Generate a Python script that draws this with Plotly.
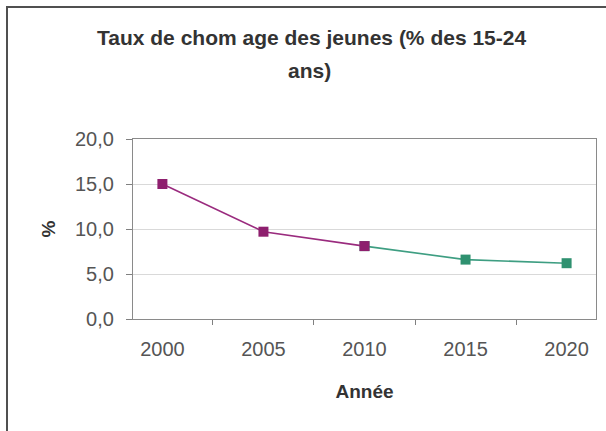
import plotly.graph_objects as go

# Data
years = ["2000", "2005", "2010", "2015", "2020"]
rate = [15.0, 9.7, 8.1, 6.6, 6.2]
split_index = 2  # last year of the first (purple) segment

title_line1 = "Taux de chom age des jeunes (% des 15-24"
title_line2 = "ans)"
x_title = "Année"
y_title = "%"
y_ticks = [0, 5, 10, 15, 20]

purple = "#8E1F6E"
purple_line = "#9A2B7E"
green = "#2F9170"
green_line = "#3E9E82"

W, H = 606, 431
L, R, T, B = 133, 10, 139, 112

fig = go.Figure()

# green segment first so purple marker at split sits on top
fig.add_trace(go.Scatter(
    x=years[split_index:], y=rate[split_index:], mode="lines+markers",
    line=dict(color=green_line, width=1.6),
    marker=dict(symbol="square", size=10, color=green),
    showlegend=False, cliponaxis=False,
))
fig.add_trace(go.Scatter(
    x=years[:split_index + 1], y=rate[:split_index + 1], mode="lines+markers",
    line=dict(color=purple_line, width=1.6),
    marker=dict(symbol="square", size=10, color=purple),
    showlegend=False, cliponaxis=False,
))

pw = W - L - R
ph = H - T - B

def px_x(p):
    return (p - L) / pw

def px_y(p):
    return (H - B - p) / ph

fig.update_layout(
    width=W, height=H,
    margin=dict(l=L, r=R, t=T, b=B, autoexpand=False),
    paper_bgcolor="white", plot_bgcolor="white",
    separators=", ",
    font=dict(family="Liberation Sans, Arial, sans-serif", color="#555555"),
    shapes=[
        dict(type="rect", xref="paper", yref="paper",
             x0=px_x(7), x1=px_x(620), y0=px_y(445), y1=px_y(7),
             line=dict(color="#505050", width=2), fillcolor="rgba(0,0,0,0)",
             layer="below"),
    ],
    annotations=[
        dict(text="<b>" + title_line1 + "</b>", xref="paper", yref="paper",
             x=px_x(311), y=px_y(37),
             xanchor="center", yanchor="middle", showarrow=False,
             font=dict(size=21, color="#333333", family="Liberation Sans, Arial, sans-serif")),
        dict(text="<b>" + title_line2 + "</b>", xref="paper", yref="paper",
             x=px_x(309), y=px_y(70),
             xanchor="center", yanchor="middle", showarrow=False,
             font=dict(size=21, color="#333333", family="Liberation Sans, Arial, sans-serif")),
    ],
)

fig.update_xaxes(
    type="category", categoryorder="array", categoryarray=years,
    tickson="boundaries", ticks="outside", ticklen=5, automargin=False,
    tickcolor="#808080", showline=True, linecolor="#8a8a8a", linewidth=1.2,
    mirror=True, showgrid=False, tickfont=dict(size=20, color="#555555"),
    ticklabelstandoff=12,
    title=dict(text="<b>" + x_title + "</b>", standoff=25,
               font=dict(size=19, color="#333333")),
)
fig.update_yaxes(
    range=[0, 20], tickvals=y_ticks, tickformat=".1f", ticks="outside", ticklen=6,
    automargin=False,
    tickcolor="#808080", showline=True, linecolor="#8a8a8a", linewidth=1.2,
    mirror=True, showgrid=True, gridcolor="#d9d9d9", gridwidth=1,
    zeroline=False, tickfont=dict(size=20, color="#555555"),
    ticklabelstandoff=8,
    title=dict(text="<b>" + y_title + "</b>", standoff=14,
               font=dict(size=19, color="#333333")),
)

fig.write_html("out.html", config={"displayModeBar": False},
               post_script="document.body.style.margin='0';document.body.style.padding='0';")
